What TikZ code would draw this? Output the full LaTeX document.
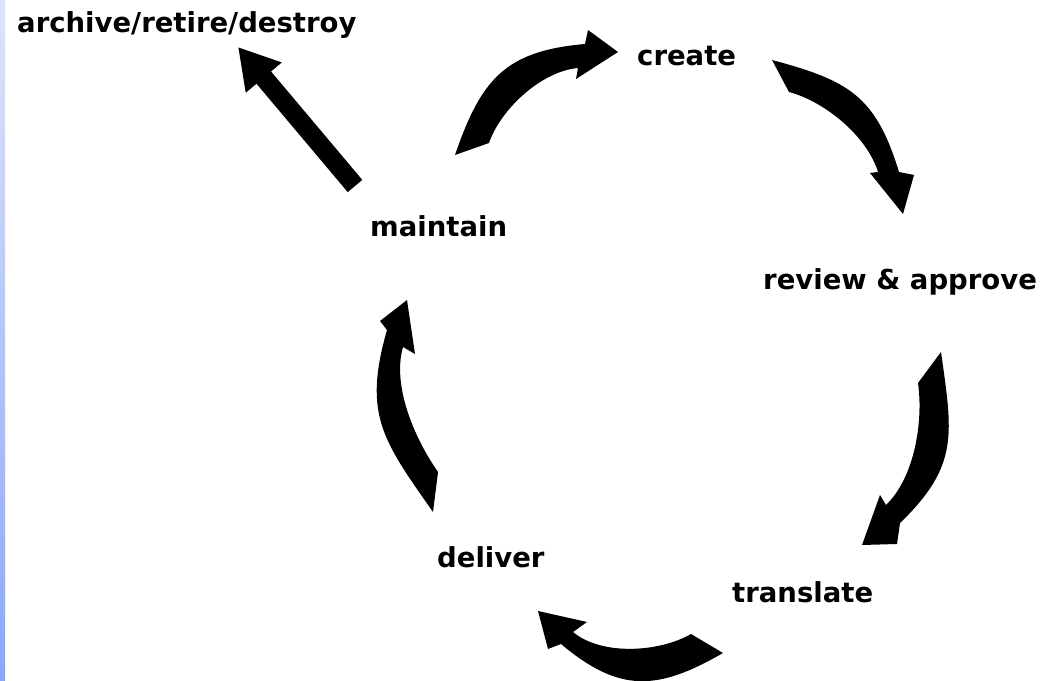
\documentclass[tikz,border=0pt]{standalone}
\usepackage{fontspec}
\setmainfont{DejaVu Sans}
\usetikzlibrary{arrows.meta}

\definecolor{stripTop}{HTML}{DDE4FA}
\definecolor{stripBot}{HTML}{8AA7FF}

\tikzset{
  lbl/.style={inner sep=0pt, anchor=base west,
    font=\fontsize{27.5}{30}\selectfont\bfseries},
  blk/.style={fill=black},
}

% curved block arrow: tail outer, tail inner, neck outer, barb outer,
% tip, barb inner, neck inner, tail heading, head in-angle
\newcommand{\cyclearrow}[9]{%
  \fill[blk] (#1) to[out=#8,in=#9,looseness=1.2] (#3) -- (#4) -- (#5) -- (#6) -- (#7)
    to[out=#9,in=#8,looseness=0.8] (#2) -- cycle;}

\begin{document}
\begin{tikzpicture}[x=1pt,y=1pt]
\useasboundingbox (0,0) rectangle (1054,680);
\fill[white] (0,0) rectangle (1054,680);
\shade[top color=stripTop, bottom color=stripBot] (0,0) rectangle (5,680);

% stages
\node[lbl] (archive) at (17,647) {archive/retire/destroy};
\node[lbl] (create) at (637,614) {create};
\node[lbl] (maintain) at (370,443) {maintain};
\node[lbl] (review) at (763,390) {review \& approve};
\node[lbl] (deliver) at (437,113) {deliver};
\node[lbl] (translate) at (732,78) {translate};

% way out of the cycle
\coordinate (ardTail) at (355,494);
\coordinate (ardTip) at (238,633);
\draw[line width=19pt, -{Triangle[length=40pt,width=44pt]}] (ardTail) -- (ardTip);

% the cycle
\cyclearrow{455,525}{489,537}{585,636}{588,650}{618,628}{576,601}{578,612}{71}{185}
\cyclearrow{772,620}{789,588}{899,508}{914,505}{903,466}{870,507}{878,508}{-15}{107}
\cyclearrow{941,328}{918,297}{900,157}{897,136}{862,135}{880,185}{886,175}{-82}{44}
\cyclearrow{723,27}{691,46}{561,36}{548,31}{538,69}{587,58}{573,48}{210}{-40}
\cyclearrow{433,168}{438,208}{387,350}{380,359}{407,380}{415,326}{403,333}{125}{254}

\end{tikzpicture}
\end{document}
